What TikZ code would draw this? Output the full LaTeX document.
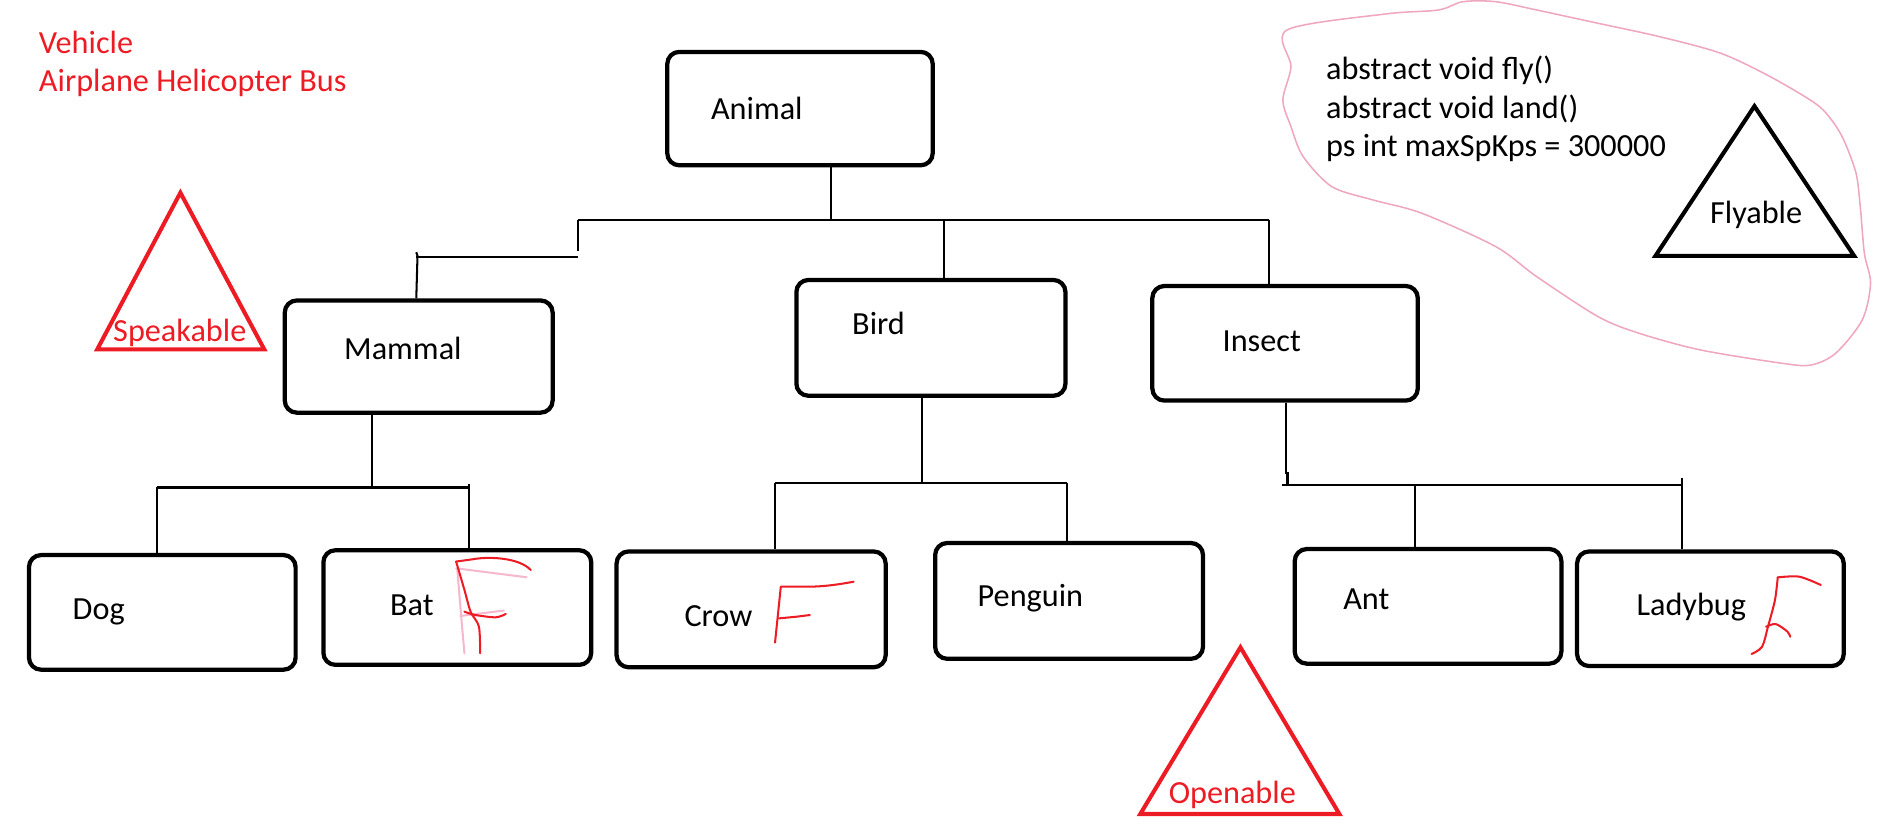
\documentclass[tikz,border=0pt]{standalone}
\usepackage{fontspec}
\setmainfont{Carlito}
\definecolor{pred}{HTML}{ED1C24}
\definecolor{ppink}{HTML}{EFA6BF}
\definecolor{lpink}{HTML}{F5B8CC}
\begin{document}
\begin{tikzpicture}[x=0.025cm,y=-0.025cm,
  box/.style 2 args={draw, line width=2.5pt, rounded corners=0.25cm,
    minimum width=#1*0.025cm, minimum height=#2*0.025cm, inner sep=0pt},
  lbl/.style={anchor=base west, inner sep=0pt, font=\fontsize{19}{22}\selectfont},
  clbl/.style={anchor=base, inner sep=0pt, font=\fontsize{19}{22}\selectfont},
  conn/.style={line width=1.2pt},
  tri/.style={line width=2.4pt, line join=miter},
  fmark/.style={draw=pred, line width=1.2pt, line cap=round, line join=round},
  fpink/.style={draw=lpink, line width=1.2pt, line cap=round, line join=round},
]
\useasboundingbox (0,0) rectangle (1568,691);

% red heading text
\node[lbl, text=pred] (veh) at (32,44) {Vehicle};
\node[lbl, text=pred] (veh2) at (32,76) {Airplane Helicopter Bus};

% boxes
\node[box={220}{94}] (animal) at (663,90) {};
\node[box={222}{93}] (mammal) at (347,295.5) {};
\node[box={223}{96}] (bird) at (771.5,280) {};
\node[box={220}{95}] (insect) at (1065,284.5) {};
\node[box={221}{95}] (dog) at (134.5,507.5) {};
\node[box={222}{95}] (bat) at (379,503.5) {};
\node[box={223}{96}] (crow) at (622.5,505) {};
\node[box={222}{96}] (penguin) at (886,498) {};
\node[box={221}{95}] (ant) at (1183.5,502.5) {};
\node[box={221}{95}] (ladybug) at (1417.5,504.5) {};

% labels
\node[lbl] (tanimal) at (589,99) {Animal};
\node[lbl] (tmammal) at (285,298) {Mammal};
\node[lbl] (tbird) at (706,277) {Bird};
\node[lbl] (tinsect) at (1013,291) {Insect};
\node[lbl] (tdog) at (60,513) {Dog};
\node[lbl] (tbat) at (323,510) {Bat};
\node[lbl] (tcrow) at (567,519) {Crow};
\node[lbl] (tpenguin) at (810,503) {Penguin};
\node[lbl] (tant) at (1113,505) {Ant};
\node[lbl] (tladybug) at (1356,510) {Ladybug};

% level 1 connectors
\coordinate (aJ) at (688.5,182);
\coordinate (busL) at (479,182);
\coordinate (busR) at (1052,182);
\coordinate (bJ) at (782,182);
\coordinate (mJ1) at (479,208);
\coordinate (mJ2) at (479,213);
\coordinate (mJ3) at (345,213);
\draw[conn] (aJ |- animal.south) -- (aJ);
\draw[conn] (busL) -- (busR);
\draw[conn] (busR) -- (busR |- insect.north);
\draw[conn] (bJ) -- (bJ |- bird.north);
\draw[conn] (busL) -- (mJ1);
\draw[conn] (mJ2) -- (mJ3);
\draw[conn] (345,209) -- (346,212) -- (mJ3 |- mammal.north);

% mammal children
\coordinate (mm) at (308,404);
\coordinate (mL) at (130,404);
\coordinate (mR) at (389,404);
\draw[conn] (mm |- mammal.south) -- (mm);
\draw[conn] (mL) -- (mR);
\draw[conn] (mL) -- (mL |- dog.north);
\draw[conn] (389,401) -- (mR |- bat.north);

% bird children
\coordinate (bm) at (764.5,400);
\coordinate (bL) at (642.5,400);
\coordinate (bR) at (884.3,400);
\draw[conn] (bm |- bird.south) -- (bm);
\draw[conn] (bL) -- (bR);
\draw[conn] (bL) -- (bL |- crow.north);
\draw[conn] (bR) -- (bR |- penguin.north);

% insect children
\coordinate (im) at (1066,392);
\coordinate (iL) at (1062.5,402);
\coordinate (iR) at (1394,402);
\coordinate (iA) at (1172.5,402);
\draw[conn] (im |- insect.south) -- (im) -- (1067,392) -- (1067,402);
\draw[conn] (iL) -- (iR);
\draw[conn] (iA) -- (iA |- ant.north);
\draw[conn] (1394,396) -- (iR |- ladybug.north);

% red F marks
% Bat
\draw[fpink] (378,471) -- (436.4,478.4);
\draw[fpink] plot[smooth] coordinates {(379,471.8) (382,508.3) (384.9,541.4)};
\draw[fpink] (381.4,510.5) -- (417.5,506);
\draw[fmark] (378,465.4) -- (391.7,463.5) .. controls (405,461) and (430,462) .. (439.9,472.4);
\draw[fmark] plot[smooth] coordinates {(378,465.4) (384.9,488.9) (390,506.9) (396.9,519.3) (397.9,541.4)};
\draw[fmark] plot[smooth] coordinates {(384.9,506.9) (393.5,509.6) (410.7,511.6) (419.2,508.8)};
% Crow
\draw[fmark] (642.3,532.6) -- (647.1,486.2) -- (671.2,486.2) .. controls (685,486) and (697,484) .. (707.4,482.1);
\draw[fmark] (645.3,512.5) -- (660,511.1) -- (671.2,509.7);
% Ladybug
\draw[fmark] plot[smooth] coordinates {(1509,484.8) (1491.1,477.9) (1473.3,478.5)};
\draw[fmark] plot[smooth] coordinates {(1473.3,478.5) (1471,497.3) (1465.2,519.4) (1460.3,536) (1451.6,542)};
\draw[fmark] plot[smooth] coordinates {(1463.6,519.4) (1471.7,517.2) (1481.4,523.5) (1483.6,527.7)};

% Speakable
\draw[tri, draw=pred] (149.5,159.7) -- (219,289.5) -- (80.6,289.5) -- cycle;
\node[clbl, text=pred] (speak) at (149,283) {Speakable};
% Openable
\draw[tri, draw=pred] (1028,536.5) -- (1110,674.6) -- (945,674.6) -- cycle;
\node[clbl, text=pred] (open) at (1021.3,665.5) {Openable};

% pink blob
\draw[ppink, line width=0.9pt] plot[smooth cycle, tension=0.5] coordinates {
  (1066.5,24.9) (1148,11.6) (1192,8.3) (1212.5,1.4) (1239.6,1.4) (1273.6,8.3)
  (1324.4,19.3) (1375.4,30.4) (1426.2,44.2) (1467,63.5) (1504.3,85.6)
  (1517.9,99.4) (1528,116) (1538.2,143.6) (1541.7,171.3) (1545.1,210)
  (1550.2,234.8) (1543.3,265.2) (1521.3,292.8) (1500.9,302.5) (1477.1,301.1)
  (1409.2,290) (1358.4,276.2) (1324.4,262.4) (1273.6,229.3) (1239.6,204.4)
  (1178.5,176.8) (1137.8,165.7) (1103.8,154.7) (1080,129.8) (1069.9,105)
  (1063.2,82.9) (1069.9,55.2)};

% code text
\node[lbl] (c1) at (1098.8,66) {abstract void fly()};
\node[lbl] (c2) at (1098.8,98) {abstract void land()};
\node[lbl] (c3) at (1098.8,130) {ps int maxSpKps = 300000};

% Flyable
\draw[tri] (1454,88) -- (1536.6,212) -- (1372,212) -- cycle;
\node[clbl] (fly) at (1455.4,185) {Flyable};
\end{tikzpicture}
\end{document}
